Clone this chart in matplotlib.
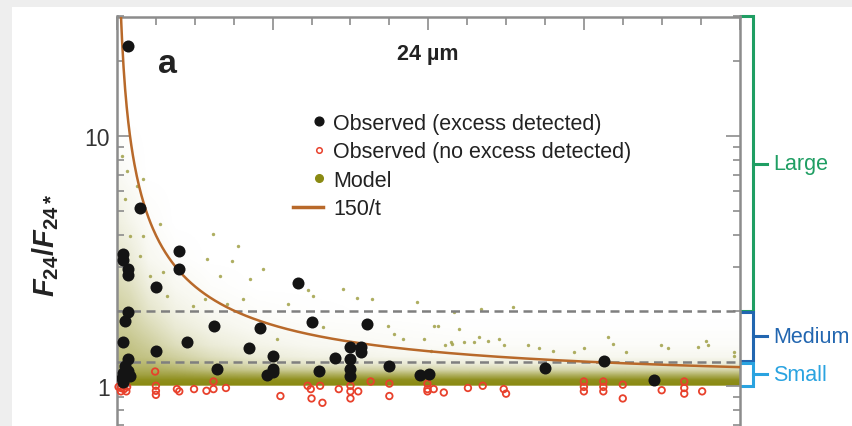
import matplotlib
matplotlib.use("Agg")
import matplotlib.pyplot as plt  # noqa: E402
import matplotlib.transforms as mtransforms  # noqa: E402
import numpy as np  # noqa: E402
from matplotlib.colors import LinearSegmentedColormap  # noqa: E402
from matplotlib.image import NonUniformImage  # noqa: E402
from matplotlib.patches import Rectangle  # noqa: E402
from matplotlib.ticker import FixedLocator, NullFormatter  # noqa: E402

# observed stars with a 24 um excess: age (Myr) and F24/F24*
EXC_AGE = [14, 30, 8, 8, 14, 14, 80, 80, 50, 232, 14, 10, 125, 184, 250, 321,
           8, 50, 90, 169, 14, 10, 8, 14, 6, 17, 8, 12, 129, 200, 200, 193,
           201, 280, 260, 300, 313, 314, 300, 300, 300, 350, 389, 401, 550,
           626, 690]
EXC_RATIO = [22.9, 5.15, 3.37, 3.19, 2.94, 2.78, 3.47, 2.94, 2.49, 2.58, 1.98,
             1.82, 1.74, 1.71, 1.80, 1.77, 1.50, 1.38, 1.49, 1.42, 1.28, 1.20,
             1.12, 1.15, 1.07, 1.09, 1.04, 1.10, 1.17, 1.31, 1.17, 1.10, 1.14,
             1.29, 1.15, 1.43, 1.43, 1.37, 1.28, 1.17, 1.09, 1.20, 1.10, 1.11,
             1.18, 1.26, 1.05]

# observed stars without a detected excess
NOEXC_AGE = [2, 5, 9, 13, 5, 12, 49, 50, 50, 50, 77, 80, 99, 115, 124, 124,
             140, 210, 249, 250, 264, 245, 261, 285, 300, 300, 300, 310, 326,
             350, 350, 399, 399, 399, 407, 420, 451, 470, 497, 500, 600, 600,
             600, 625, 625, 625, 650, 650, 700, 729, 729, 729, 752]
NOEXC_RATIO = [0.99, 0.98, 0.97, 0.99, 0.95, 0.95, 1.14, 1.0, 0.955, 0.92,
               0.97, 0.95, 0.97, 0.955, 0.97, 1.04, 0.98, 0.91, 0.97, 0.89,
               0.855, 1.0, 1.0, 0.97, 1.0, 0.95, 0.89, 0.95, 1.04, 1.02, 0.91,
               1.02, 0.97, 0.95, 0.97, 0.94, 0.98, 1.0, 0.97, 0.93, 1.04, 0.99,
               0.95, 1.04, 0.99, 0.95, 1.01, 0.89, 0.96, 1.04, 0.98, 0.93,
               0.95]

# model population: relative density of synthetic stars on an age x ratio grid
HAZE_AGE = [0, 15, 40, 75, 120, 180, 250, 350, 450, 550, 650, 750, 800]
HAZE_RATIO = [0.99, 1.0, 1.05, 1.1, 1.15, 1.22, 1.3, 1.45, 1.7, 2.0, 2.5,
              3.2, 4.5, 7.0, 12.0]
HAZE_DENSITY = [
    [0, 0, 0, 0, 0, 0, 0, 0, 0, 0, 0, 0, 0],
    [1, 1, 1, 1, 1, 1, 1, 1, 1, 1, 1, 1, 1],
    [.95, .95, .95, .95, .95, .95, .95, .95, .95, .95, .95, .95, .95],
    [.8, .8, .8, .8, .75, .72, .7, .68, .66, .66, .66, .66, .66],
    [.7, .7, .7, .65, .55, .48, .44, .4, .36, .36, .36, .36, .36],
    [.6, .6, .6, .5, .4, .28, .22, .18, .16, .16, .16, .16, .16],
    [.55, .55, .5, .4, .28, .17, .12, .08, .07, .07, .07, .07, .07],
    [.5, .5, .42, .28, .17, .1, .06, .04, .03, .03, .03, .03, .03],
    [.45, .42, .32, .18, .1, .05, .03, .02, .01, .01, .01, .01, .01],
    [.4, .36, .22, .11, .05, .02, .01, 0, 0, 0, 0, 0, 0],
    [.32, .27, .14, .06, .02, 0, 0, 0, 0, 0, 0, 0, 0],
    [.22, .18, .07, .02, 0, 0, 0, 0, 0, 0, 0, 0, 0],
    [.14, .09, .03, 0, 0, 0, 0, 0, 0, 0, 0, 0, 0],
    [.05, .03, 0, 0, 0, 0, 0, 0, 0, 0, 0, 0, 0],
    [0, 0, 0, 0, 0, 0, 0, 0, 0, 0, 0, 0, 0],
]

# isolated model stars well above the main band
MODEL_AGE = [245, 290, 308, 328, 220, 385, 433, 252, 468, 509, 407, 439, 465,
             491, 528, 631, 699, 757, 793, 124, 148, 171, 188, 55, 34, 116,
             133, 59, 156, 13, 34, 10, 26, 6,
             431, 446, 497, 542, 560, 587, 600, 637, 654, 708, 747, 760, 793,
             403, 422, 459, 477, 206, 265, 348, 356, 368, 394, 412, 429,
             64, 98, 113, 142, 162, 30, 42, 17]
MODEL_RATIO = [2.42, 2.44, 2.25, 2.23, 2.13, 2.17, 1.98, 2.29, 2.03, 2.07,
               1.74, 1.68, 1.57, 1.54, 1.45, 1.57, 1.45, 1.51, 1.37, 4.06,
               3.16, 2.68, 2.94, 4.44, 3.98, 3.22, 2.76, 2.86, 3.63, 7.2, 6.7,
               5.6, 6.3, 8.3,
               1.47, 1.50, 1.45, 1.41, 1.38, 1.37, 1.41, 1.47, 1.37, 1.41,
               1.43, 1.45, 1.31, 1.38, 1.45, 1.50, 1.51, 1.54, 1.72, 1.74,
               1.61, 1.54, 1.54, 1.74, 1.50,
               2.29, 2.09, 2.23, 2.13, 2.23, 3.3, 2.75, 3.98]

T0 = 150            # Myr, decay timescale of the upper envelope
LARGE = (2.0, 30.0)
MEDIUM = (1.26, 1.98)
SMALL = (1.0, 1.235)

C_OLIVE = "#8a8a12"
C_CURVE = "#b8692a"
C_RED = "#e8412c"
C_LARGE = "#1f9e63"
C_MEDIUM = "#2266b0"
C_SMALL = "#2aa3e0"
C_SPINE = "#8c8c8c"

plt.rcParams["font.family"] = ["Liberation Sans", "DejaVu Sans"]
plt.rcParams["mathtext.fontset"] = "custom"
plt.rcParams["mathtext.it"] = "Liberation Sans:italic:bold"
plt.rcParams["mathtext.rm"] = "Liberation Sans:bold"
plt.rcParams["mathtext.bf"] = "Liberation Sans:bold"

W, H = 852, 427
fig = plt.figure(figsize=(W / 100, H / 100), dpi=100)
fig.patch.set_facecolor("#eeeeee")
fig.add_artist(Rectangle((12 / W, 0), 1, 1 - 8 / H, transform=fig.transFigure,
                         facecolor="white", edgecolor="none", zorder=0))


def fx(px):
    return px / W


def fy(py):
    return 1 - py / H


# axes spans 0.5..30 on a log scale, its lower part runs past the panel edge
ymin, ymax = 0.5, 30.0
ax_h = 250 * np.log10(ymax / ymin)
rect = [fx(117), fy(17.5 + ax_h), (739.5 - 117) / W, ax_h / H]

# model density sits on its own axes in log10 units, underneath the data
axd = fig.add_axes(rect)
axd.set_xlim(0, 800)
axd.set_ylim(np.log10(ymin), np.log10(ymax))
axd.axis("off")
cmap = LinearSegmentedColormap.from_list(
    "olive_a", [(0.54, 0.54, 0.07, 0.0), (0.54, 0.54, 0.07, 1.0)])
im = NonUniformImage(axd, interpolation="bilinear", cmap=cmap,
                     extent=(0, 800, np.log10(ymin), np.log10(ymax)))
im.set_clim(0, 1)
im.set_data(np.array(HAZE_AGE, float), np.log10(HAZE_RATIO),
            np.array(HAZE_DENSITY, float))
axd.add_image(im)

ax = fig.add_axes(rect)
ax.set_facecolor("none")
ax.set_yscale("log")
ax.set_xlim(0, 800)
ax.set_ylim(ymin, ymax)

ax.scatter(MODEL_AGE, MODEL_RATIO, s=6, marker="o", color="#a5a550",
           linewidths=0, alpha=0.9, zorder=2)

for yv in (LARGE[0], 1.25):
    ax.axhline(yv, color="#7f7f7f", lw=1.8, ls=(0, (3.6, 2.2)), zorder=3)

t = np.linspace(4.5, 800, 800)
ax.plot(t, 1 + T0 / t, color=C_CURVE, lw=1.8, zorder=3)

ax.scatter(NOEXC_AGE, NOEXC_RATIO, s=22, facecolors="none", edgecolors=C_RED,
           linewidths=1.3, zorder=4, clip_on=False)
ax.scatter(EXC_AGE, EXC_RATIO, s=75, color="#141414", linewidths=0, zorder=5)

# frame and ticks
for sp in ax.spines.values():
    sp.set_color(C_SPINE)
    sp.set_linewidth(1.8)
ax.xaxis.set_major_locator(FixedLocator(np.arange(0, 801, 200)))
ax.xaxis.set_minor_locator(FixedLocator(np.arange(0, 801, 50)))
ax.tick_params(axis="x", which="both", direction="in", top=True, bottom=True,
               labelbottom=False, labeltop=False, color=C_SPINE, width=1.2)
ax.tick_params(axis="x", which="major", length=9)
ax.tick_params(axis="x", which="minor", length=6)
ax.yaxis.set_major_locator(FixedLocator([1, 10]))
ax.yaxis.set_minor_locator(FixedLocator(
    [m * d for d in (0.1, 1, 10) for m in range(2, 10)]))
ax.yaxis.set_minor_formatter(NullFormatter())
ax.set_yticklabels(["1", "10"])
ax.tick_params(axis="y", which="both", direction="in", left=True, right=True,
               color=C_SPINE, width=1.2, labelsize=16.5, labelcolor="#333333",
               pad=5)
ax.tick_params(axis="y", which="major", length=10)
ax.tick_params(axis="y", which="minor", length=5)

fig.text(fx(46), fy(245), r"$F_{24}/F_{24*}$", rotation=90, ha="center",
         va="center", fontsize=21, color="#222222")
fig.text(fx(428), fy(60), "24 µm", ha="center", va="baseline", fontsize=15.5,
         fontweight="bold", color="#222222")
fig.text(fx(158), fy(73), "a", ha="left", va="baseline", fontsize=24.5,
         fontweight="bold", color="#222222")

# legend, drawn row by row
rows = [("Observed (excess detected)", 122, 130),
        ("Observed (no excess detected)", 151, 158),
        ("Model", 179, 187),
        ("150/t", 208, 215)]
ftr = fig.transFigure
fig.add_artist(plt.Line2D([fx(319)], [fy(122)], marker="o", ms=6.3,
                          color="#141414", transform=ftr))
fig.add_artist(plt.Line2D([fx(319)], [fy(151)], marker="o", ms=4,
                          mfc="none", mec=C_RED, mew=1.1, transform=ftr))
fig.add_artist(plt.Line2D([fx(319)], [fy(179)], marker="o", ms=5.5,
                          color=C_OLIVE, transform=ftr))
fig.add_artist(plt.Line2D([fx(293), fx(323)], [fy(208), fy(208)],
                          color=C_CURVE, lw=2.5, transform=ftr))
for label, _, base in rows:
    fig.text(fx(333), fy(base), label, ha="left", va="baseline",
             fontsize=15.5, color="#222222")

# excess-size brackets beside the right spine
btr = mtransforms.blended_transform_factory(ax.transAxes, ax.transData)
x_in, x_br, x_out, x_txt = 1.002, 1.0217, 1.044, 1.054
for (lo, hi), name, col in ((LARGE, "Large", C_LARGE),
                            (MEDIUM, "Medium", C_MEDIUM),
                            (SMALL, "Small", C_SMALL)):
    mid = np.sqrt(lo * hi)
    ax.plot([x_in, x_br, x_br, x_in], [hi, hi, lo, lo], color=col, lw=2.2,
            transform=btr, clip_on=False, solid_joinstyle="miter")
    ax.plot([x_br, x_out], [mid, mid], color=col, lw=2.2, transform=btr,
            clip_on=False)
    ax.text(x_txt, mid, name, transform=btr, ha="left", va="center",
            fontsize=15.5, color=col, clip_on=False)

fig.savefig("out.png", dpi=100, facecolor=fig.get_facecolor())
